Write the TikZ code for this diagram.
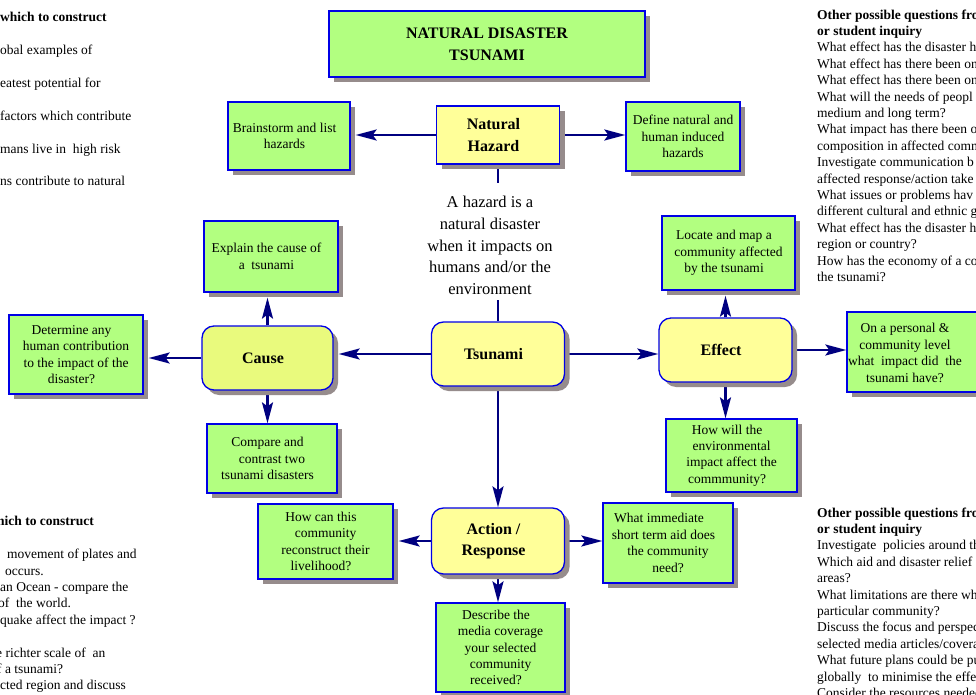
\documentclass[tikz,border=0pt]{standalone}
\usepackage{fontspec}
\setmainfont{Liberation Serif}
\usetikzlibrary{arrows.meta,shadows,backgrounds}

\definecolor{boxgreen}{RGB}{178,255,128}
\definecolor{boxyellow}{RGB}{255,255,153}
\definecolor{causeyellow}{RGB}{233,250,125}
\definecolor{boxblue}{RGB}{0,0,230}
\definecolor{shadowgray}{RGB}{150,140,140}
\definecolor{linknavy}{RGB}{0,0,128}

\newcommand\boxfont{\fontsize{13.5}{16.4}\selectfont}
\newcommand\keyfont{\fontsize{16}{21.5}\selectfont\bfseries}
\newcommand\headfont{\fontsize{16}{22}\selectfont\bfseries}
\newcommand\notefont{\fontsize{16.5}{21.7}\selectfont}
% trailing room that sets box texts a little left of centre
\newcommand\pad{\hspace*{9pt}}

\tikzset{
  shaded box/.style={draw=boxblue, line width=1.3pt, inner sep=0pt, align=center,
    drop shadow={shadow xshift=5pt, shadow yshift=-5pt, fill=shadowgray, opacity=1}},
  task/.style={shaded box, fill=boxgreen, font=\boxfont},
  topic/.style={shaded box, fill=boxyellow, rounded corners=12pt, font=\keyfont},
  link/.style={draw=linknavy, line width=2.4pt},
  arrowlink/.style={link, -{Stealth[length=21pt,width=11pt,inset=4pt]}},
  sidetext/.style={font=\boxfont, align=left, inner sep=0pt, anchor=north west},
}

\begin{document}
\begin{tikzpicture}[x=1pt,y=-1pt]
\useasboundingbox (0,0) rectangle (976,695);
\begin{pgfonlayer}{background}
  \fill[white] (0,0) rectangle (976,695);
\end{pgfonlayer}
\clip (0,0) rectangle (976,695);

% heading
\node[task, font=\headfont, minimum width=316, minimum height=66] (title) at (487,44)
  {NATURAL DISASTER\\TSUNAMI};

% top row
\node[topic, rounded corners=0pt, minimum width=123, minimum height=58] (hazard) at (498,135) {Natural\pad\\Hazard\pad};
\node[task, minimum width=122, minimum height=68] (brain) at (289,136) {Brainstorm and list\pad\\hazards\pad};
\node[task, minimum width=114, minimum height=69] (define) at (683,136.5) {Define natural and\\human induced\\hazards};

% definition between hazard and tsunami
\node[font=\notefont, align=center, inner sep=0pt] (defn) at (490,245.5)
  {A hazard is a\\natural disaster\\when it impacts on\\humans and/or the\\environment};
\coordinate (defin) at (498,183);
\coordinate (defout) at (498,300);

% central row
\node[topic, minimum width=133, minimum height=64] (tsunami) at (498,354) {Tsunami\pad};
\node[topic, fill=causeyellow, minimum width=131, minimum height=64] (cause) at (267.5,358) {Cause\pad};
\node[topic, minimum width=133, minimum height=64] (effect) at (725.5,350) {Effect\pad};
\node[topic, minimum width=133, minimum height=66] (action) at (498,541) {Action /\pad\\Response\pad};

% cause branch
\node[task, minimum width=134, minimum height=71] (explain) at (271,256.5) {Explain the cause of\pad\\a~ tsunami\pad};
\node[task, minimum width=134, minimum height=79] (determine) at (76,354.5) {Determine any\pad\\human contribution\pad\\to the impact of the\pad\\disaster?\pad};
\node[task, minimum width=130, minimum height=69] (compare) at (272,458.5) {Compare and\pad\\contrast two\pad\\tsunami disasters\pad};

% effect branch
\node[task, minimum width=133, minimum height=74] (locate) at (728.5,253) {Locate and map a\pad\\community affected\pad\\by the tsunami\pad};
\node[task, minimum width=153, minimum height=80] (personal) at (923.5,352) {};
\node[font=\boxfont, align=center, inner sep=0pt] (personaltext) at (905,353)
  {On a personal \&\\community level\\what~ impact did~ the\\tsunami have?};
\node[task, minimum width=131, minimum height=73] (howwill) at (731.5,455.5) {How will the\pad\\environmental\pad\\impact affect the\pad\\commmunity?\pad};

% action branch
\node[task, minimum width=135, minimum height=75] (howcan) at (325.5,541.5) {How can this\pad\\community\pad\\reconstruct their\pad\\livelihood?\pad};
\node[task, minimum width=130, minimum height=80] (immediate) at (668,543) {What immediate\pad\pad\\short term aid does\pad\pad\\the community\pad\\need?};
\node[task, minimum width=129, minimum height=89] (describe) at (500.5,647.5) {Describe the\pad\\media coverage\pad\\your selected\pad\\community\pad\\received?\pad};

% surrounding notes
\node[sidetext, font=\fontsize{13.5}{32.8}\selectfont] (leftnotes) at (0,12.3)
  {\textbf{which to construct}\\obal examples of\\eatest potential for\\factors which contribute\\mans live in~ high risk\\ns contribute to natural};
\node[sidetext] (leftnotes2) at (-4,516.3)
  {\hspace*{1pt}\textbf{hich to construct}\\[16.4pt]
   \hspace*{11pt}movement of plates and\\
   \hspace*{9pt}occurs.\\
   \hspace*{4pt}an Ocean - compare the\\
   \hspace*{2pt}of~ the world.\\
   \hspace*{4pt}quake affect the impact ?\\[16.4pt]
   e richter scale of~ an\\
   \hspace*{1pt}f a tsunami?\\
   \hspace*{4pt}cted region and discuss};
\node[sidetext] (rightnotes) at (817,9.3)
  {\textbf{Other possible questions fro}\\
   \textbf{or student inquiry}\\
   What effect has the disaster h\\
   What effect has there been on\\
   What effect has there been on\\
   What will the needs of peopl\\
   medium and long term?\\
   What impact has there been o\\
   composition in affected comm\\
   Investigate communication b\\
   affected response/action take\\
   What issues or problems hav\\
   different cultural and ethnic g\\
   What effect has the disaster h\\
   region or country?\\
   How has the economy of a co\\
   the tsunami?};
\node[sidetext] (rightnotes2) at (817,507.3)
  {\textbf{Other possible questions fro}\\
   \textbf{or student inquiry}\\
   Investigate~ policies around th\\
   Which aid and disaster relief a\\
   areas?\\
   What limitations are there whe\\
   particular community?\\
   Discuss the focus and perspec\\
   selected media articles/coverag\\
   What future plans could be pu\\
   globally~ to minimise the effec\\
   Consider the resources needed};

% connectors, kept beneath the boxes and their shadows
\begin{pgfonlayer}{background}
  \draw[link] (hazard.south) -- (defin);
  \draw[link] (defout) -- (tsunami.north);
  \draw[arrowlink, shorten >=5pt] (hazard.west) -- (hazard.west -| brain.east);
  \draw[arrowlink] (hazard.east) -- (hazard.east -| define.west);
  \draw[arrowlink, shorten >=5pt] (tsunami.west) -- (tsunami.west -| cause.east);
  \draw[arrowlink] (tsunami.east) -- (tsunami.east -| effect.west);
  \draw[arrowlink] (tsunami.south) -- (tsunami.south |- action.north);
  \draw[arrowlink, shorten >=5pt] (cause.north) -- (cause.north |- explain.south);
  \draw[arrowlink] (cause.south) -- (cause.south |- compare.north);
  \draw[arrowlink, shorten >=5pt] (cause.west) -- (cause.west -| determine.east);
  \draw[arrowlink, shorten >=5pt] (effect.north) -- (effect.north |- locate.south);
  \draw[arrowlink] (effect.south) -- (effect.south |- howwill.north);
  \draw[arrowlink] (effect.east) -- (effect.east -| personal.west);
  \draw[arrowlink, shorten >=5pt] (action.west) -- (action.west -| howcan.east);
  \draw[arrowlink] (action.east) -- (action.east -| immediate.west);
  \draw[arrowlink] (action.south) -- (action.south |- describe.north);
\end{pgfonlayer}
\end{tikzpicture}
\end{document}
